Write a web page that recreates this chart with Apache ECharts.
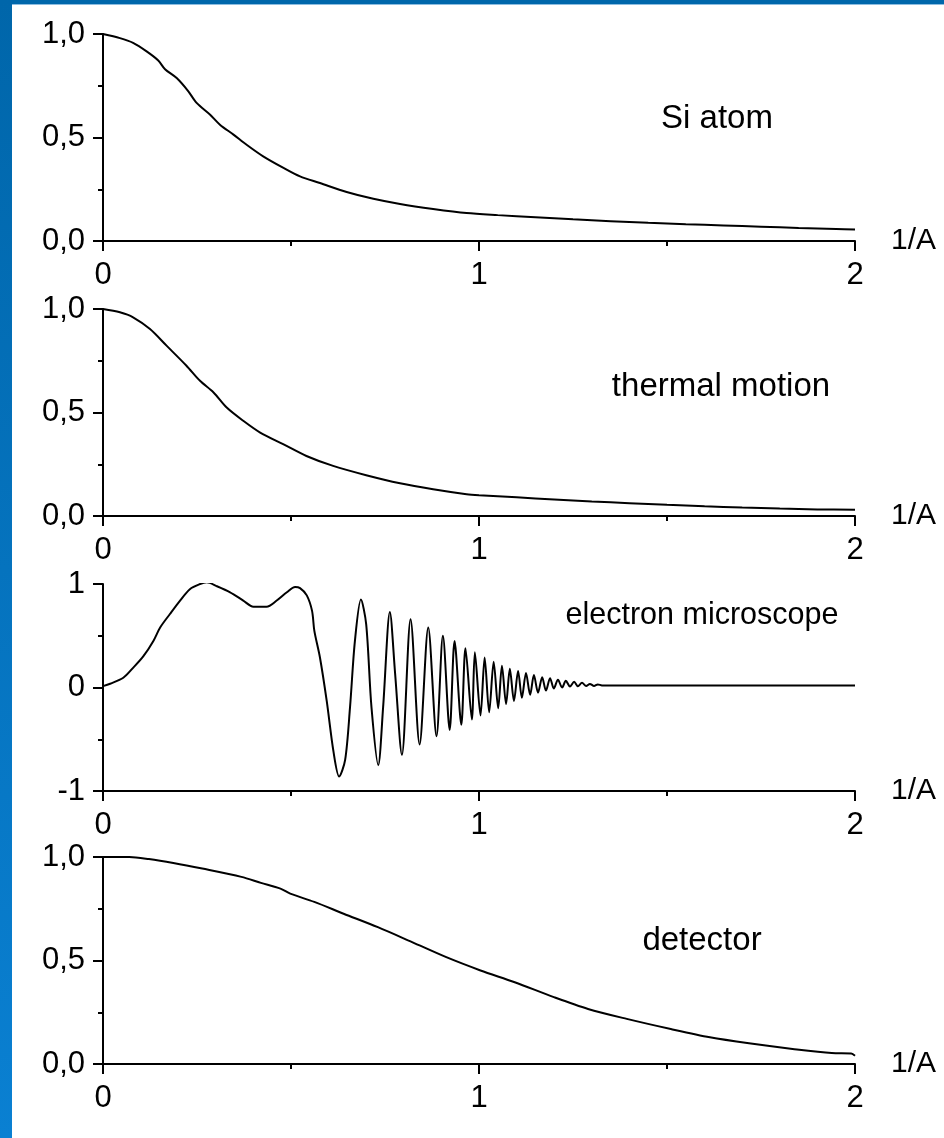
<!DOCTYPE html>
<html><head><meta charset="utf-8">
<script src="https://cdn.jsdelivr.net/npm/echarts@6/dist/echarts.min.js"></script>
<style>
html,body{margin:0;padding:0;background:#fff;}
#chart{width:944px;height:1138px;}
</style></head><body>
<div id="chart"></div>
<script>
// ---- data ----
const panelNames = ['Si atom', 'thermal motion', 'electron microscope', 'detector'];
const xUnit = '1/A';

const siX = [0, 0.045, 0.08, 0.116, 0.147, 0.165, 0.196, 0.227, 0.249, 0.285, 0.311, 0.347, 0.382, 0.426, 0.48, 0.524, 0.577, 0.648, 0.719, 0.79, 0.878, 0.967, 1.05, 1.15, 1.25, 1.35, 1.45, 1.55, 1.65, 1.75, 1.85, 1.95, 2.0];
const siY = [1.0, 0.98, 0.957, 0.916, 0.872, 0.83, 0.787, 0.723, 0.667, 0.61, 0.562, 0.514, 0.465, 0.409, 0.353, 0.312, 0.28, 0.237, 0.204, 0.179, 0.155, 0.135, 0.125, 0.115, 0.105, 0.096, 0.088, 0.081, 0.075, 0.069, 0.063, 0.058, 0.056];

const thermalX = [0, 0.045, 0.08, 0.125, 0.169, 0.222, 0.258, 0.294, 0.329, 0.373, 0.418, 0.479, 0.541, 0.612, 0.7, 0.79, 0.878, 0.967, 1.0, 1.1, 1.2, 1.3, 1.4, 1.5, 1.6, 1.7, 1.8, 1.9, 2.0];
const thermalY = [1.0, 0.984, 0.96, 0.903, 0.823, 0.726, 0.653, 0.597, 0.524, 0.46, 0.403, 0.347, 0.29, 0.242, 0.197, 0.158, 0.129, 0.105, 0.1, 0.09, 0.08, 0.07, 0.062, 0.054, 0.047, 0.041, 0.036, 0.032, 0.03];

const emX = [0, 0.019, 0.054, 0.08, 0.107, 0.134, 0.152, 0.178, 0.205, 0.231, 0.258, 0.276, 0.302, 0.338, 0.373, 0.4, 0.435, 0.462, 0.489, 0.511, 0.524, 0.542, 0.556, 0.562, 0.577, 0.595, 0.613, 0.628, 0.644, 0.657, 0.670, 0.686, 0.70, 0.714, 0.732, 0.745, 0.763, 0.777, 0.795, 0.818, 0.842, 0.865, 0.887, 0.904, 0.922, 0.935, 0.953, 0.964, 0.981, 0.989, 1.004, 1.015, 1.027, 1.039, 1.051, 1.061, 1.072, 1.082, 1.093, 1.104, 1.114, 1.125, 1.136, 1.146, 1.157, 1.168, 1.178, 1.189, 1.199, 1.210, 1.221, 1.231, 1.242, 1.253, 1.263, 1.274, 1.285, 1.295, 1.306, 1.316, 1.327, 1.34, 2.0];
const emY = [0.013, 0.036, 0.094, 0.19, 0.30, 0.45, 0.58, 0.71, 0.84, 0.95, 1.0, 1.016, 0.98, 0.92, 0.84, 0.78, 0.78, 0.84, 0.92, 0.97, 0.96, 0.89, 0.74, 0.55, 0.29, -0.13, -0.62, -0.86, -0.70, -0.19, 0.45, 0.85, 0.61, -0.19, -0.75, -0.19, 0.73, 0.13, -0.65, 0.66, -0.55, 0.58, -0.47, 0.50, -0.41, 0.45, -0.36, 0.38, -0.31, 0.34, -0.27, 0.29, -0.24, 0.25, -0.20, 0.21, -0.16, 0.18, -0.13, 0.16, -0.10, 0.14, -0.07, 0.12, -0.05, 0.10, -0.03, 0.09, -0.01, 0.075, 0.0, 0.065, 0.01, 0.055, 0.012, 0.045, 0.015, 0.035, 0.015, 0.03, 0.02, 0.02, 0.02];

const detX = [0, 0.07, 0.122, 0.187, 0.264, 0.368, 0.42, 0.472, 0.498, 0.562, 0.64, 0.731, 0.822, 0.913, 1.004, 1.095, 1.199, 1.29, 1.393, 1.51, 1.614, 1.718, 1.834, 1.938, 1.99, 2.0];
const detY = [1.0, 1.0, 0.99, 0.971, 0.944, 0.904, 0.875, 0.847, 0.823, 0.783, 0.726, 0.661, 0.589, 0.516, 0.452, 0.395, 0.323, 0.266, 0.218, 0.169, 0.129, 0.10, 0.073, 0.053, 0.051, 0.04];

const xTicks = { min: 0, max: 2, interval: 1 };
const yTicksUnit = { min: 0, max: 1, interval: 0.5 };
const yTicksSigned = { min: -1, max: 1, interval: 1 };

// ---- chart ----
const seriesX = [siX, thermalX, emX, detX];
const seriesY = [siY, thermalY, emY, detY];
const yRanges = [yTicksUnit, yTicksUnit, yTicksSigned, yTicksUnit];
const yFormat = [
  v => v.toFixed(1).replace('.', ','),
  v => v.toFixed(1).replace('.', ','),
  v => String(Math.round(v)),
  v => v.toFixed(1).replace('.', ',')
];
const panelTops = [34, 309, 584, 857];
const panelHeight = 207;
const labelPos = [[717, 119], [721, 387], [702, 616], [702, 941]];
const labelSize = [33, 33, 30.5, 33];
const FONT = '"Liberation Sans", Arial, sans-serif';

const chart = echarts.init(document.getElementById('chart'));
const grid = [], xAxis = [], yAxis = [], series = [], graphic = [];

const black = { color: '#000', width: 2 };
for (let i = 0; i < 4; i++) {
  grid.push({ left: 103, right: 89, top: panelTops[i], height: panelHeight });
  xAxis.push({
    gridIndex: i, type: 'value', min: xTicks.min, max: xTicks.max, interval: xTicks.interval,
    position: 'bottom',
    axisLine: { show: true, onZero: false, lineStyle: black },
    axisTick: { show: true, length: 10, lineStyle: black },
    minorTick: { show: true, splitNumber: 2, length: 5, lineStyle: black },
    splitLine: { show: false }, minorSplitLine: { show: false },
    axisLabel: { color: '#000', fontSize: 31, fontFamily: FONT, margin: 19 },
    name: xUnit, nameLocation: 'end', nameGap: 36,
    nameTextStyle: { color: '#000', fontSize: 30, fontFamily: FONT, padding: [0, 0, 10, 0] }
  });
  const r = yRanges[i];
  yAxis.push({
    gridIndex: i, type: 'value', min: r.min, max: r.max, interval: r.interval,
    axisLine: { show: true, onZero: false, lineStyle: black },
    axisTick: { show: true, length: 10, lineStyle: black },
    minorTick: { show: true, splitNumber: 2, length: 5, lineStyle: black },
    splitLine: { show: false }, minorSplitLine: { show: false },
    axisLabel: { color: '#000', fontSize: 31, fontFamily: FONT, margin: 18, formatter: yFormat[i] }
  });
  series.push({
    type: 'line', xAxisIndex: i, yAxisIndex: i, showSymbol: false, symbol: 'none',
    smooth: 0.3, animation: false,
    lineStyle: { color: '#000', width: 2 },
    data: seriesX[i].map((x, k) => [x, seriesY[i][k]])
  });
  graphic.push({
    type: 'text', x: labelPos[i][0], y: labelPos[i][1], silent: true,
    style: { text: panelNames[i], fontSize: labelSize[i], fontFamily: FONT, fill: '#000', align: 'center', verticalAlign: 'middle' }
  });
}
// blue slide frame
graphic.push({ type: 'rect', shape: { x: 0, y: 0, width: 944, height: 4 }, style: { fill: '#0067ab' }, silent: true });
graphic.push({ type: 'rect', shape: { x: 0, y: 4, width: 944, height: 1 }, style: { fill: '#8dbde0' }, silent: true });
graphic.push({
  type: 'rect', shape: { x: 0, y: 0, width: 12, height: 1138 }, silent: true,
  style: { fill: new echarts.graphic.LinearGradient(0, 0, 0, 1, [{ offset: 0, color: '#0066aa' }, { offset: 1, color: '#0a80d2' }]) }
});

chart.setOption({ animation: false, backgroundColor: '#fff', grid, xAxis, yAxis, series, graphic });
</script>
</body></html>
